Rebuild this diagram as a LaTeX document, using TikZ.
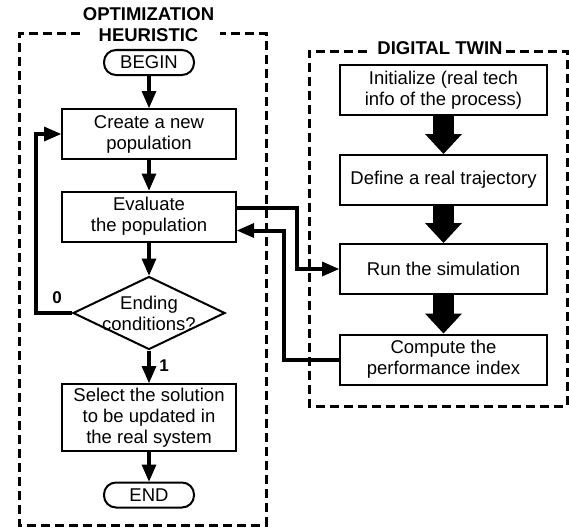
\documentclass[tikz,border=0pt]{standalone}
\usepackage{fontspec}
\setmainfont{Liberation Sans}
\usetikzlibrary{arrows.meta,shapes.geometric,calc}
\begin{document}
\begin{tikzpicture}[x=1pt,y=-1pt,
  every node/.style={font=\fontsize{18.5}{21}\selectfont},
  box/.style={draw,line width=2pt,align=center,inner sep=0pt,minimum width=174pt,minimum height=50pt},
  dtbox/.style={box,minimum width=207pt},
  term/.style={draw,line width=2pt,rounded corners=12pt,minimum width=90pt,minimum height=25pt,inner sep=0pt},
  dec/.style={draw,line width=2pt,shape=diamond,aspect=2,inner xsep=-20pt,inner ysep=-6pt,minimum width=152pt,minimum height=73pt,align=center},
  conn/.style={line width=4pt,-{Triangle[length=17pt,width=15pt,line width=0pt]}},
  big/.style={line width=21pt,-{Triangle[length=20pt,width=37pt,line width=0pt]}},
  grp/.style={line width=3pt,dash pattern=on 9pt off 5pt},
  ttl/.style={font=\bfseries\fontsize{18.5}{21}\selectfont,align=center,inner sep=0pt},
  lbl/.style={font=\bfseries\fontsize{17}{20}\selectfont,inner sep=0pt}
]
\useasboundingbox (0,0) rectangle (569,527);
\draw[grp] (80,34) -- (19,34) -- (19,525) -- (266,525) -- (266,34) -- (220,34);
\draw[grp] (367,51) -- (309,51) -- (309,406) -- (567,406) -- (567,51) -- (505,51);
\node[ttl] (opt) at (148.5,25) {OPTIMIZATION\\HEURISTIC};
\node[ttl,anchor=base] (dt) at (440,55) {DIGITAL TWIN};

\node[term] (begin) at (149,62.5) {BEGIN};
\node[box] (create) at (149,134) {Create a new\\population};
\node[box] (eval) at (149,216.5) {Evaluate\\the population};
\node[dec] (cond) at (149,313) {Ending\\conditions?};
\node[box,minimum height=67pt] (select) at (149,417.5) {Select the solution\\to be updated in\\the real system};
\node[term] (end) at (149,495) {END};

\node[dtbox] (init) at (443.5,90) {Initialize (real tech\\info of the process)};
\node[dtbox] (define) at (443.5,180) {Define a real trajectory};
\node[dtbox] (run) at (443.5,269) {Run the simulation};
\node[dtbox] (comp) at (443.5,359.5) {Compute the\\performance index};

\node[lbl] (l0) at (57,298) {0};
\node[lbl] (l1) at (164,366) {1};

\draw[conn] (begin) -- (create);
\draw[conn] (create) -- (eval);
\draw[conn] (eval) -- (cond);
\draw[conn] (cond) -- (select);
\draw[conn] (select) -- (end);
\draw[conn] (cond.west) -- ++(-36,0) |- (create.west);
\draw[conn] ([yshift=9pt]eval.east) -- ++(60,0) |- (run.west);
\draw[conn] (comp.west) -- ++(-55,0) |- ([yshift=-14pt]eval.east);
\draw[big] (init) -- (define);
\draw[big] (define) -- (run);
\draw[big] (run) -- (comp);
\end{tikzpicture}
\end{document}
